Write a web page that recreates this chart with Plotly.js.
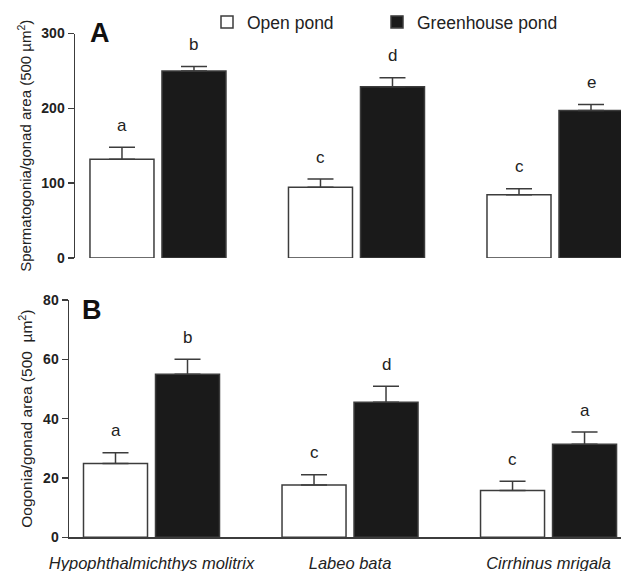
<!DOCTYPE html>
<html>
<head>
<meta charset="utf-8">
<script src="https://cdn.plot.ly/plotly-3.0.1.min.js"></script>
<style>html,body{margin:0;padding:0;background:#fff;}#chart{width:621px;height:571px;}</style>
</head>
<body>
<div id="chart"></div>
<script>
// ---- data ----
var species = ["Hypophthalmichthys molitrix", "Labeo bata", "Cirrhinus mrigala"];
var seriesNames = ["Open pond", "Greenhouse pond"];

var spermOpen = [132, 94.5, 84.6];
var spermOpenSE = [16, 11, 8];
var spermGreen = [250, 229, 197];
var spermGreenSE = [6, 12, 8];

var oogOpen = [24.9, 17.6, 15.8];
var oogOpenSE = [3.6, 3.5, 3.1];
var oogGreen = [55.0, 45.5, 31.4];
var oogGreenSE = [5.0, 5.4, 4.1];

var lettersSpermOpen = ["a", "c", "c"];
var lettersSpermGreen = ["b", "d", "e"];
var lettersOogOpen = ["a", "c", "c"];
var lettersOogGreen = ["b", "d", "a"];

var yTicksA = [0, 100, 200, 300];
var yTicksB = [0, 20, 40, 60, 80];

// ---- styles ----
var W = 621, H = 571;
var FONT = "Arial, 'Liberation Sans', sans-serif";
var edge = "#3c3c3c";
var blackFill = "#1a1a1a";

function zeros(n){ var a=[]; for(var i=0;i<n;i++) a.push(0); return a; }

function barTrace(y, se, name, fill, xa, ya, showlegend, lw){
  var t = {
    type: "bar", x: species, y: y, name: name,
    xaxis: xa, yaxis: ya, showlegend: showlegend, legendgroup: name,
    marker: {color: fill, line: {color: edge, width: 1.5}},
    error_y: {type: "data", symmetric: false, array: se, arrayminus: zeros(se.length),
              color: edge, thickness: 1.5, width: 13},
    hoverinfo: "skip"
  };
  if (lw) t.legendwidth = lw;
  return t;
}

var data = [
  barTrace(spermOpen, spermOpenSE, seriesNames[0], "#ffffff", "x", "y", true, 125),
  barTrace(spermGreen, spermGreenSE, seriesNames[1], blackFill, "x", "y", true, 170),
  barTrace(oogOpen, oogOpenSE, seriesNames[0], "#ffffff", "x2", "y2", false),
  barTrace(oogGreen, oogGreenSE, seriesNames[1], blackFill, "x2", "y2", false)
];

var barOffsetPx = 36;
var annotations = [];
function addLetters(vals, se, letters, xref, yref, shift){
  for (var i = 0; i < vals.length; i++){
    annotations.push({
      x: species[i], y: vals[i] + se[i], xref: xref, yref: yref,
      text: letters[i], showarrow: false, xshift: shift, yshift: 22,
      yanchor: "middle", xanchor: "center",
      font: {family: FONT, size: 17, color: "#222"}
    });
  }
}
addLetters(spermOpen, spermOpenSE, lettersSpermOpen, "x", "y", -barOffsetPx);
addLetters(spermGreen, spermGreenSE, lettersSpermGreen, "x", "y", barOffsetPx);
addLetters(oogOpen, oogOpenSE, lettersOogOpen, "x2", "y2", -barOffsetPx);
addLetters(oogGreen, oogGreenSE, lettersOogGreen, "x2", "y2", barOffsetPx);

annotations.push({xref: "paper", yref: "paper", x: 100/W, y: 1 - 33/H, text: "<b>A</b>",
  showarrow: false, xanchor: "center", yanchor: "middle", font: {family: FONT, size: 27, color: "#111"}});
annotations.push({xref: "paper", yref: "paper", x: 92/W, y: 1 - 310/H, text: "<b>B</b>",
  showarrow: false, xanchor: "center", yanchor: "middle", font: {family: FONT, size: 27, color: "#111"}});

var yaxisCommon = {
  showgrid: false, zeroline: false, showline: true, linecolor: edge, linewidth: 1.5,
  ticks: "outside", ticklen: 6, tickwidth: 1.5, tickcolor: edge,
  tickfont: {family: FONT, size: 14, weight: "bold", color: "#222"},
  automargin: false, fixedrange: true
};

var layout = {
  width: W, height: H,
  margin: {l: 0, r: 0, t: 0, b: 0},
  paper_bgcolor: "#fff", plot_bgcolor: "rgba(0,0,0,0)",
  barmode: "group", bargap: 0.2746, bargroupgap: 0.111,
  font: {family: FONT, color: "#222"},
  showlegend: true,
  legend: {orientation: "h", x: 207/W, y: 1 - 22/H, xanchor: "left", yanchor: "middle",
           font: {family: FONT, size: 17.5, color: "#222"},
           bgcolor: "rgba(0,0,0,0)", borderwidth: 0, traceorder: "normal"},
  xaxis: {domain: [75/W, 1], range: [-0.418, 2.3325], anchor: "y", type: "category",
          showline: false, showticklabels: false, ticks: "", showgrid: false, zeroline: false, fixedrange: true},
  yaxis: Object.assign({}, yaxisCommon, {
          domain: [1 - 258/H, 1 - 33.5/H], range: [0, 300], tickvals: yTicksA, anchor: "x",
          title: {text: "Spermatogonia/gonad area (500 µm<sup>2</sup>)", standoff: 6,
                  font: {family: FONT, size: 15, color: "#222"}}}),
  xaxis2: {domain: [69/W, 1], range: [-0.4156, 2.365], anchor: "y2", type: "category",
           showline: true, linecolor: edge, linewidth: 1.5, ticks: "", showgrid: false, zeroline: false,
           ticklabelstandoff: 10,
           tickfont: {family: FONT, size: 16.5, style: "italic", color: "#222"}, automargin: false, fixedrange: true},
  yaxis2: Object.assign({}, yaxisCommon, {
          domain: [1 - 537.3/H, 1 - 300/H], range: [0, 80], tickvals: yTicksB, anchor: "x2",
          title: {text: "Oogonia/gonad area (500  µm<sup>2</sup>)", standoff: 6,
                  font: {family: FONT, size: 15.5, color: "#222"}}}),
  annotations: annotations
};

Plotly.newPlot("chart", data, layout, {staticPlot: true, displayModeBar: false});
</script>
</body>
</html>
